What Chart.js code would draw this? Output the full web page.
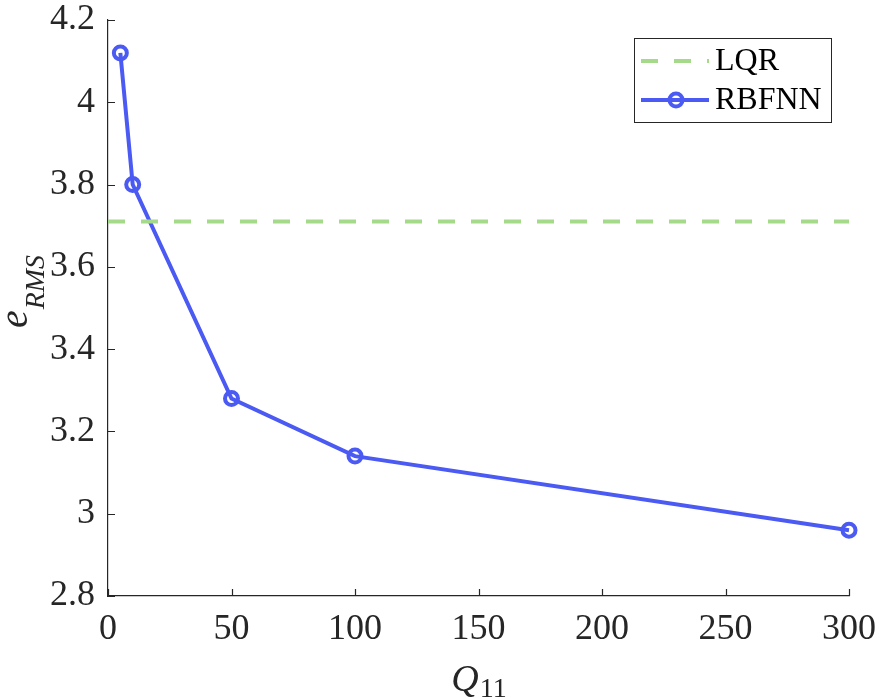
<!DOCTYPE html>
<html>
<head>
<meta charset="utf-8">
<script src="https://cdn.jsdelivr.net/npm/chart.js@4.4.1/dist/chart.umd.min.js"></script>
<style>
  html, body { margin: 0; padding: 0; background: #fff; }
  #wrap { width: 880px; height: 698px; position: relative; }
</style>
</head>
<body>
<div id="wrap"><canvas id="c" width="880" height="698"></canvas></div>
<script>
// values
const q11 = [5, 10, 50, 100, 300];
const rbfnn = [4.12, 3.80, 3.28, 3.14, 2.96];
const lqrX = [0, 300];
const lqrY = [3.71, 3.71];
const xTicks = [0, 50, 100, 150, 200, 250, 300];
const yTicks = [2.8, 3.0, 3.2, 3.4, 3.6, 3.8, 4.0, 4.2];
const seriesNames = ['LQR', 'RBFNN'];

const axisColor = '#262626';
const serif = '"Liberation Serif", serif';
const blue = '#4a5af2';
const green = '#a6da8b';

const fmt = v => String(Math.round(v * 10) / 10);

// MATLAB-like inward ticks, axis titles and legend box
const decorations = {
    id: 'decorations',
    afterDraw(chart) {
        const ctx = chart.ctx;
        const { left, right, bottom } = chart.chartArea;
        const xs = chart.scales.x, ys = chart.scales.y;
        ctx.save();
        ctx.strokeStyle = axisColor;
        ctx.lineWidth = 1.2;
        ctx.beginPath();
        for (const t of xTicks) {
            const px = Math.round(xs.getPixelForValue(t)) + 0.5;
            ctx.moveTo(px, bottom); ctx.lineTo(px, bottom - 7);
        }
        for (const t of yTicks) {
            const py = Math.round(ys.getPixelForValue(t)) + 0.5;
            ctx.moveTo(left, py); ctx.lineTo(left + 7, py);
        }
        ctx.stroke();

        // x title: Q_11
        ctx.fillStyle = axisColor;
        ctx.textBaseline = 'alphabetic';
        ctx.font = 'italic 38px ' + serif;
        const qW = ctx.measureText('Q').width;
        ctx.font = '28px ' + serif;
        const sW = ctx.measureText('11').width;
        const cx = (left + right) / 2;
        const x0 = cx - (qW + sW) / 2;
        ctx.font = 'italic 38px ' + serif;
        ctx.textAlign = 'left';
        ctx.fillText('Q', x0, 691);
        ctx.font = '28px ' + serif;
        ctx.fillText('11', x0 + qW + 1, 697);

        // y title: e_RMS, rotated
        ctx.save();
        ctx.translate(27, 292);
        ctx.rotate(-Math.PI / 2);
        ctx.font = 'italic 40px ' + serif;
        const eW = ctx.measureText('e').width;
        ctx.font = 'italic 28px ' + serif;
        const rW = ctx.measureText('RMS').width;
        const y0 = -(eW + rW) / 2;
        ctx.font = 'italic 40px ' + serif;
        ctx.fillText('e', y0, 0);
        ctx.font = 'italic 28px ' + serif;
        ctx.fillText('RMS', y0 + eW + 1, 17);
        ctx.restore();

        // legend
        const bx = 634.5, by = 38.5, bw = 197, bh = 84;
        ctx.fillStyle = '#fff';
        ctx.fillRect(bx, by, bw, bh);
        ctx.strokeStyle = axisColor;
        ctx.lineWidth = 1;
        ctx.strokeRect(bx, by, bw, bh);
        const rows = [61, 100];
        chart.data.datasets.forEach((ds, i) => {
            const ly = rows[i];
            ctx.save();
            ctx.strokeStyle = ds.borderColor;
            ctx.lineWidth = ds.borderWidth;
            ctx.setLineDash(ds.borderDash || []);
            ctx.beginPath();
            ctx.moveTo(641, ly); ctx.lineTo(709, ly);
            ctx.stroke();
            ctx.setLineDash([]);
            if (ds.pointRadius > 0) {
                ctx.lineWidth = ds.pointBorderWidth;
                ctx.beginPath();
                ctx.arc(676, ly, ds.pointRadius, 0, Math.PI * 2);
                ctx.stroke();
            }
            ctx.restore();
            ctx.fillStyle = '#000';
            ctx.font = '32px ' + serif;
            ctx.textAlign = 'left';
            ctx.textBaseline = 'middle';
            ctx.fillText(ds.label, 715, ly + 1);
        });
        ctx.restore();
    }
};

function build() {
    new Chart(document.getElementById('c'), {
        type: 'line',
        data: {
            datasets: [
                {
                    label: seriesNames[0],
                    data: lqrX.map((x, i) => ({ x, y: lqrY[i] })),
                    borderColor: green,
                    borderWidth: 4,
                    borderDash: [17, 16],
                    pointRadius: 0,
                    clip: false
                },
                {
                    label: seriesNames[1],
                    data: q11.map((x, i) => ({ x, y: rbfnn[i] })),
                    borderColor: blue,
                    borderWidth: 4,
                    pointRadius: 6.5,
                    pointBorderWidth: 4,
                    pointBorderColor: blue,
                    pointBackgroundColor: 'rgba(255,255,255,0)',
                    clip: false
                }
            ]
        },
        options: {
            responsive: false,
            animation: false,
            layout: { padding: { left: 0, right: 31, top: 20, bottom: 0 } },
            plugins: { legend: { display: false }, tooltip: { enabled: false } },
            scales: {
                x: {
                    type: 'linear',
                    min: 0, max: 300,
                    afterBuildTicks: s => { s.ticks = xTicks.map(v => ({ value: v })); },
                    afterFit: s => { s.height = 102; s.paddingLeft = 0; s.paddingRight = 0; },
                    grid: { display: false, drawTicks: false },
                    border: { display: true, color: axisColor, width: 1.2 },
                    ticks: {
                        color: axisColor,
                        font: { family: serif, size: 36 },
                        padding: 12,
                        maxRotation: 0,
                        autoSkip: false,
                        callback: v => fmt(v)
                    }
                },
                y: {
                    type: 'linear',
                    min: 2.8, max: 4.2,
                    afterBuildTicks: s => { s.ticks = yTicks.map(v => ({ value: v })); },
                    afterFit: s => { s.width = 108; s.paddingTop = 0; s.paddingBottom = 0; },
                    grid: { display: false, drawTicks: false },
                    border: { display: true, color: axisColor, width: 1.2 },
                    ticks: {
                        color: axisColor,
                        font: { family: serif, size: 36 },
                        padding: 13,
                        autoSkip: false,
                        callback: v => fmt(v)
                    }
                }
            }
        },
        plugins: [decorations]
    });
}

Promise.all([
    document.fonts.load('36px "Liberation Serif"'),
    document.fonts.load('italic 36px "Liberation Serif"')
]).then(build, build);
</script>
</body>
</html>
